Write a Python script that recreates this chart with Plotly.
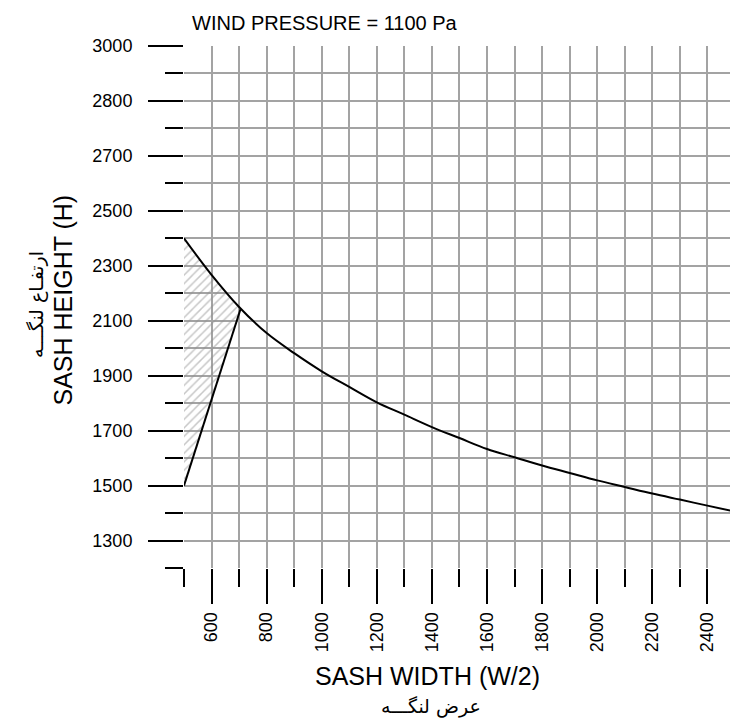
import plotly.graph_objects as go

# ---- data ----
width_mm = [500, 600, 700, 800, 900, 1000, 1100, 1200, 1300, 1400, 1500,
            1600, 1700, 1800, 1900, 2000, 2100, 2200, 2300, 2400, 2500]
height_mm = [2400, 2267, 2150, 2055, 1982, 1916, 1859, 1803, 1758, 1713, 1673,
             1633, 1603, 1573, 1546, 1519, 1495, 1471, 1449, 1427, 1405]

limit_x = [500, 705]
limit_y = [1500, 2142]

hatch_x = [500, 500, 600, 700, 705, 500]
hatch_y = [1500, 2400, 2267, 2150, 2142, 1500]

x_tickvals = [600, 800, 1000, 1200, 1400, 1600, 1800, 2000, 2200, 2400]
x_ticktext = ["600", "800", "1000", "1200", "1400", "1600", "1800", "2000", "2200", "2400"]
y_tickvals = [1300, 1500, 1700, 1900, 2100, 2300, 2500, 2700, 2900, 3100]
y_ticktext = ["1300", "1500", "1700", "1900", "2100", "2300", "2500", "2700", "2800", "3000"]

W, H = 730, 723
L, R, T = 184, 0, 46
PLOT_BOTTOM = 568
B = H - PLOT_BOTTOM
PW, PH = W - L - R, H - T - B

def fx(px):
    return (px - L) / PW

def fy(py):
    return (H - B - py) / PH

LAT = "Liberation Sans, Arial, sans-serif"
FA = "DejaVu Sans, Noto Sans, sans-serif"
GRID = "#a3a3a3"

fig = go.Figure()

fig.add_trace(go.Scatter(
    x=hatch_x, y=hatch_y, mode="lines", fill="toself",
    line=dict(width=0, color="rgba(0,0,0,0)"),
    fillcolor="rgba(0,0,0,0)",
    fillpattern=dict(shape="/", fgcolor="#8f8f8f", bgcolor="rgba(255,255,255,0)",
                     size=6, solidity=0.25),
    hoverinfo="skip", showlegend=False,
))

fig.add_trace(go.Scatter(
    x=width_mm, y=height_mm, mode="lines", line=dict(color="black", width=2, shape="spline"),
    showlegend=False,
))

fig.add_trace(go.Scatter(
    x=limit_x, y=limit_y, mode="lines", line=dict(color="black", width=2),
    showlegend=False,
))

fig.update_xaxes(
    range=[500, 2482], tickmode="array", tickvals=x_tickvals, ticktext=x_ticktext,
    tickangle=-90, ticks="outside", ticklen=35, tickwidth=2, tickcolor="black",
    ticklabelstandoff=1, automargin=False,
    showgrid=True, gridcolor=GRID, gridwidth=2, zeroline=False, showline=False,
    tickfont=dict(family=LAT, size=18, color="black"),
    minor=dict(tickmode="linear", tick0=500, dtick=100, ticks="outside", ticklen=18,
               tickwidth=2, tickcolor="black", showgrid=True, gridcolor=GRID, gridwidth=2),
)
fig.update_yaxes(
    range=[1200, 3100], tickmode="array", tickvals=y_tickvals, ticktext=y_ticktext,
    ticks="outside", ticklen=35, tickwidth=2, tickcolor="black",
    ticklabelstandoff=12, automargin=False,
    showgrid=True, gridcolor=GRID, gridwidth=2, zeroline=False, showline=False,
    tickfont=dict(family=LAT, size=18, color="black"),
    minor=dict(tickmode="linear", tick0=1200, dtick=100, ticks="outside", ticklen=18,
               tickwidth=2, tickcolor="black", showgrid=True, gridcolor=GRID, gridwidth=2),
)

ann = [
    dict(text="WIND PRESSURE = 1100 Pa", x=fx(190), y=fy(23), xanchor="left", yanchor="middle",
         font=dict(family=LAT, size=20, color="black")),
    dict(text="SASH WIDTH (W/2)", x=fx(427.5), y=fy(676), xanchor="center", yanchor="middle",
         font=dict(family=LAT, size=25, color="black")),
    dict(text="عرض لنگـــه", x=fx(431), y=fy(706), xanchor="center", yanchor="middle",
         font=dict(family=FA, size=19, color="black")),
    dict(text="SASH HEIGHT (H)", x=fx(62.5), y=fy(300), xanchor="center", yanchor="middle",
         textangle=-90, font=dict(family=LAT, size=25, color="black")),
    dict(text="ارتفـاع لنگـــه", x=fx(36), y=fy(305), xanchor="center", yanchor="middle",
         textangle=-90, font=dict(family=FA, size=19, color="black")),
]
for a in ann:
    a.update(xref="paper", yref="paper", showarrow=False)

fig.update_layout(
    width=W, height=H, margin=dict(l=L, r=R, t=T, b=B, autoexpand=False),
    paper_bgcolor="white", plot_bgcolor="white",
    annotations=ann, showlegend=False,
)

fig.write_html(
    "out.html",
    config={"displayModeBar": False},
    post_script="document.body.style.margin='0';document.body.style.overflow='hidden';"
                "document.documentElement.style.overflow='hidden';",
)
